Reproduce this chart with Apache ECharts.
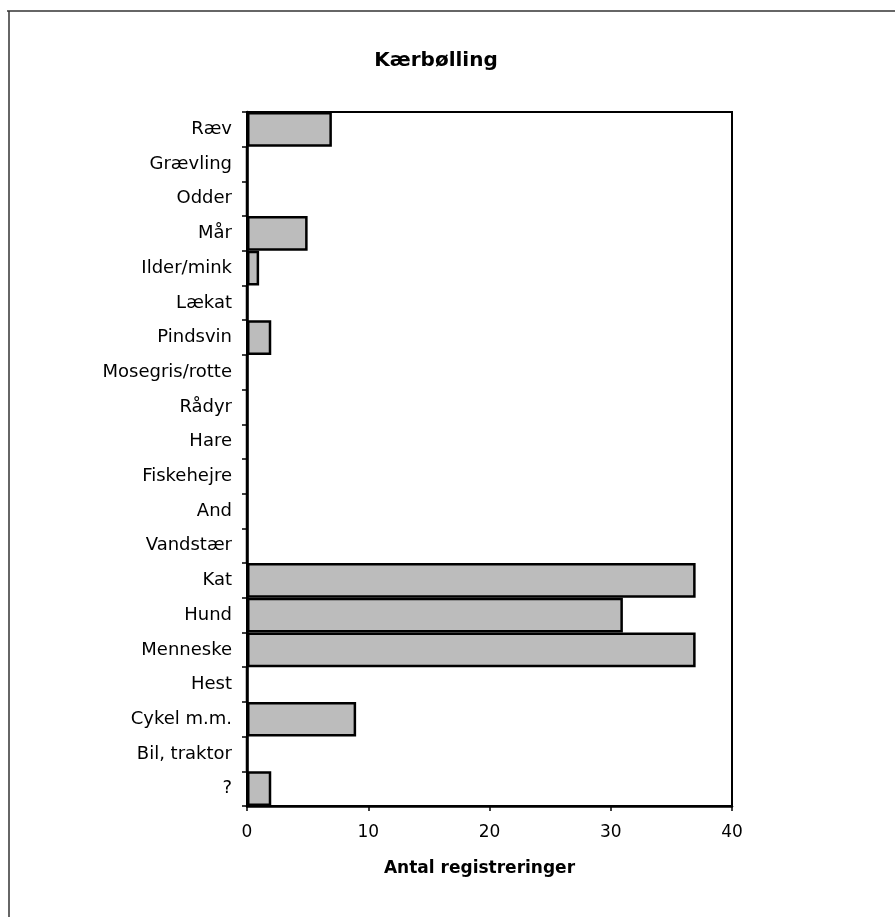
<!DOCTYPE html>
<html>
<head>
<meta charset="utf-8">
<script src="https://cdn.jsdelivr.net/npm/echarts@6/dist/echarts.min.js"></script>
<style>
html,body{margin:0;padding:0;background:#fff;}
#chart{width:895px;height:917px;}
</style>
</head>
<body>
<div id="chart"></div>
<script>
const chartTitle = 'Kærbølling';
const categories = ['Ræv','Grævling','Odder','Mår','Ilder/mink','Lækat','Pindsvin','Mosegris/rotte','Rådyr','Hare','Fiskehejre','And','Vandstær','Kat','Hund','Menneske','Hest','Cykel m.m.','Bil, traktor','?'];
const values = [7,0,0,5,1,0,2,0,0,0,0,0,0,37,31,37,0,9,0,2];
const xTicks = [0,10,20,30,40];
const xAxisName = 'Antal registreringer';

const chart = echarts.init(document.getElementById('chart'), null, {renderer:'canvas'});
chart.setOption({
  backgroundColor:'#ffffff',
  animation:false,
  title:{
    text:chartTitle,
    left:431, top:46, textAlign:'center',
    textStyle:{fontFamily:'DejaVu Sans', fontWeight:'bold', fontSize:20, color:'#000'}
  },
  grid:{left:247, right:163, top:112, bottom:111, show:true, borderColor:'#000', borderWidth:2, backgroundColor:'transparent'},
  xAxis:{
    type:'value', min:xTicks[0], max:xTicks[xTicks.length-1], interval:10,
    splitLine:{show:false},
    axisLine:{show:true, lineStyle:{color:'#000', width:2.5}},
    axisTick:{show:true, length:5, lineStyle:{color:'#000', width:1.5}},
    axisLabel:{margin:18, fontFamily:'DejaVu Sans', fontSize:17, color:'#000'},
    name:xAxisName, nameLocation:'middle', nameGap:54,
    nameTextStyle:{fontFamily:'DejaVu Sans', fontWeight:'bold', fontSize:17, color:'#000', padding:[0,20,0,0]}
  },
  yAxis:{
    type:'category', data:categories, inverse:true,
    axisLine:{show:true, lineStyle:{color:'#000', width:2.5}},
    axisTick:{show:true, length:5, lineStyle:{color:'#000', width:1.5}},
    axisLabel:{margin:15, fontFamily:'DejaVu Sans', fontSize:18, color:'#000', interval:0}
  },
  series:[{
    type:'bar', data:values, barCategoryGap:'0%',
    itemStyle:{color:'#bcbcbc', borderColor:'#000', borderWidth:2.5}
  }],
  graphic:[
    {type:'line', shape:{x1:7, y1:11, x2:895, y2:11}, style:{stroke:'#333', lineWidth:1.5}},
    {type:'line', shape:{x1:9, y1:11, x2:9, y2:917}, style:{stroke:'#333', lineWidth:1.5}}
  ]
});
</script>
</body>
</html>
